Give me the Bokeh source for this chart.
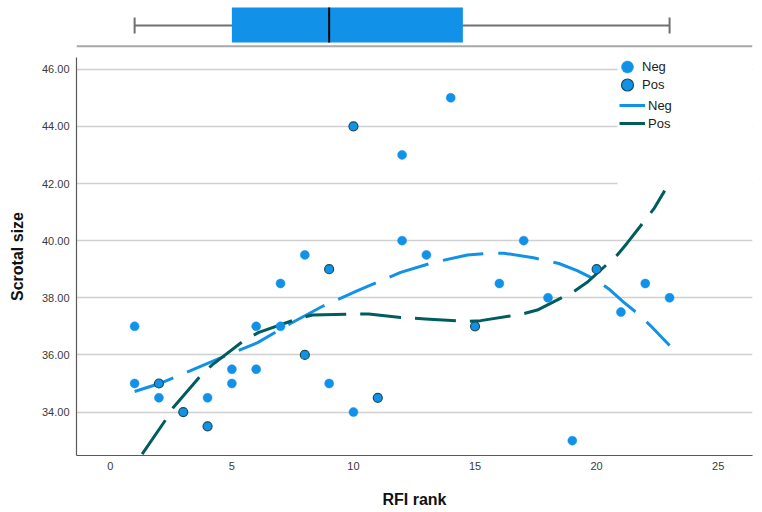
from bokeh.plotting import figure
from bokeh.layouts import column
from bokeh.models import (Range1d, FixedTicker, NumeralTickFormatter, Legend, LegendItem,
                          BoxAnnotation, Span)
from bokeh.embed import file_html
from bokeh.resources import INLINE

# ---------------- data ----------------
neg_rank = [1, 1, 2, 4, 5, 5, 6, 6, 7, 7, 8, 9, 10, 12, 12, 13, 14, 16, 17, 18, 19, 21, 22, 23]
neg_size = [37, 35, 34.5, 34.5, 35.5, 35, 37, 35.5, 38.5, 37, 39.5, 35, 34, 43, 40, 39.5, 45,
            38.5, 40, 38, 33, 37.5, 38.5, 38]
pos_rank = [2, 3, 4, 8, 9, 10, 11, 15, 20]
pos_size = [35, 34, 33.5, 36, 39, 44, 34.5, 37, 39]

# fit lines
neg_fit_rank = [1.0, 2.0, 3.3, 4.66, 6.06, 7.41, 8.77, 10.17, 11.94, 13.31, 14.69, 15.57, 16.19,
                17.4, 18.45, 19.2, 20.02, 20.5, 21.12, 21.8, 22.29, 23.0]
neg_fit_size = [34.72, 34.99, 35.45, 35.94, 36.43, 37.1, 37.72, 38.25, 38.89, 39.24, 39.5, 39.56,
                39.56, 39.4, 39.2, 38.95, 38.6, 38.31, 37.84, 37.37, 36.96, 36.33]
pos_fit_rank = [1.31, 2.27, 2.59, 3.71, 4.19, 5.52, 6.11, 7.69, 8.31, 10.02, 10.63, 11.94, 12.96,
                14.68, 15.23, 16.94, 17.56, 19.06, 19.61, 20.85, 21.26, 22.35, 22.8]
pos_fit_size = [32.53, 33.72, 34.16, 35.27, 35.65, 36.52, 36.79, 37.26, 37.4, 37.43, 37.43, 37.31,
                37.26, 37.17, 37.2, 37.43, 37.57, 38.22, 38.54, 39.5, 39.92, 41.11, 41.75]

# box plot of RFI rank
rank_min, rank_q1, rank_median, rank_q3, rank_max = 1, 5, 9, 14.5, 23

x_ticks = [0, 5, 10, 15, 20, 25]
y_ticks = [34, 36, 38, 40, 42, 44, 46]

BLUE = "#1192e8"
TEAL = "#005d5d"
FONT = "Liberation Sans"

x_lo, x_hi = -1.39, 26.41
y_lo, y_hi = 32.48, 46.41
x_range = Range1d(x_lo, x_hi)

# ---------------- box plot (top) ----------------
bx = figure(frame_width=676, frame_height=48, x_range=x_range, y_range=Range1d(0, 48),
            output_backend="svg", toolbar_location=None, x_axis_location=None,
            y_axis_location=None, min_border_left=76, min_border_right=10,
            min_border_top=0, min_border_bottom=0)
bx.outline_line_color = None
bx.grid.visible = False
bx.segment(x0=[rank_min], x1=[rank_max], y0=[23], y1=[23], line_color="#707070", line_width=2)
bx.segment(x0=[rank_min, rank_max], x1=[rank_min, rank_max], y0=[15, 15], y1=[31, 31],
           line_color="#707070", line_width=2)
bx.quad(left=[rank_q1], right=[rank_q3], bottom=[6], top=[41], fill_color=BLUE, line_color=None)
bx.segment(x0=[rank_median], x1=[rank_median], y0=[6], y1=[41], line_color="black", line_width=2)
bx.add_layout(Span(location=2.3, dimension="width", line_color="#a8a8a8", line_width=2))

# ---------------- main scatter ----------------
p = figure(frame_width=676, frame_height=398, x_range=x_range, y_range=Range1d(y_lo, y_hi),
           output_backend="svg", toolbar_location=None, min_border_left=76, min_border_right=10,
           min_border_top=9, min_border_bottom=57)
p.outline_line_color = None
p.xgrid.visible = False
p.ygrid.ticker = FixedTicker(ticks=y_ticks)
p.ygrid.grid_line_color = "#d0d0d0"
p.ygrid.grid_line_width = 1.5

p.xaxis.ticker = FixedTicker(ticks=x_ticks)
p.yaxis.ticker = FixedTicker(ticks=y_ticks)
p.yaxis.formatter = NumeralTickFormatter(format="0.00")
for ax in (p.xaxis[0], p.yaxis[0]):
    ax.axis_line_color = "#5a5a5a"
    ax.axis_line_width = 1.2
    ax.major_tick_line_color = None
    ax.minor_tick_line_color = None
    ax.major_tick_out = 0
    ax.major_label_text_font = FONT
    ax.major_label_text_font_size = "11px"
    ax.major_label_text_color = "#3a3a3a"
    ax.axis_label_text_font = FONT
    ax.axis_label_text_font_size = "16px"
    ax.axis_label_text_font_style = "bold"
    ax.axis_label_text_color = "#111111"
p.xaxis.axis_label = "RFI rank"
p.yaxis.axis_label = "Scrotal size"
p.xaxis.major_label_standoff = 6
p.xaxis.axis_label_standoff = 18
p.yaxis.major_label_standoff = 7
p.yaxis.axis_label_standoff = 13

r_neg_fit = p.line(neg_fit_rank, neg_fit_size, line_color=BLUE, line_width=3, line_dash="41 15")
r_pos_fit = p.line(pos_fit_rank, pos_fit_size, line_color=TEAL, line_width=3, line_dash="41 14")

r_neg = p.scatter(neg_rank, neg_size, size=9, fill_color=BLUE, line_color=BLUE, line_width=0.5)
r_pos = p.scatter(pos_rank, pos_size, size=9, fill_color=BLUE, line_color="#1b4e57", line_width=1.2)

# white area behind the legend
p.add_layout(BoxAnnotation(left=20.86, right=x_hi, bottom=41.89, top=y_hi, fill_color="white",
                           fill_alpha=1, line_alpha=0, level="annotation"))

legend_style = dict(orientation="vertical", padding=0, margin=0, border_line_alpha=0,
                    background_fill_alpha=0, label_text_font=FONT, label_text_font_size="13px",
                    label_text_color="#222222")
leg_neg_pt = Legend(items=[LegendItem(label="Neg", renderers=[r_neg])], location=(536, 372),
                    glyph_width=30, glyph_height=33, label_height=33, label_standoff=0,
                    **legend_style)
leg_pos_pt = Legend(items=[LegendItem(label="Pos", renderers=[r_pos])], location=(536, 354),
                    glyph_width=30, glyph_height=33, label_height=33, label_standoff=0,
                    **legend_style)
leg_fit = Legend(items=[LegendItem(label="Neg", renderers=[r_neg_fit]),
                        LegendItem(label="Pos", renderers=[r_pos_fit])],
                 location=(543, 323), glyph_width=26, glyph_height=18, label_height=18,
                 spacing=0, label_standoff=3, **legend_style)
p.add_layout(leg_neg_pt, "center")
p.add_layout(leg_pos_pt, "center")
p.add_layout(leg_fit, "center")

layout = column(bx, p, spacing=0)
open("out.html", "w").write(file_html(layout, INLINE))
